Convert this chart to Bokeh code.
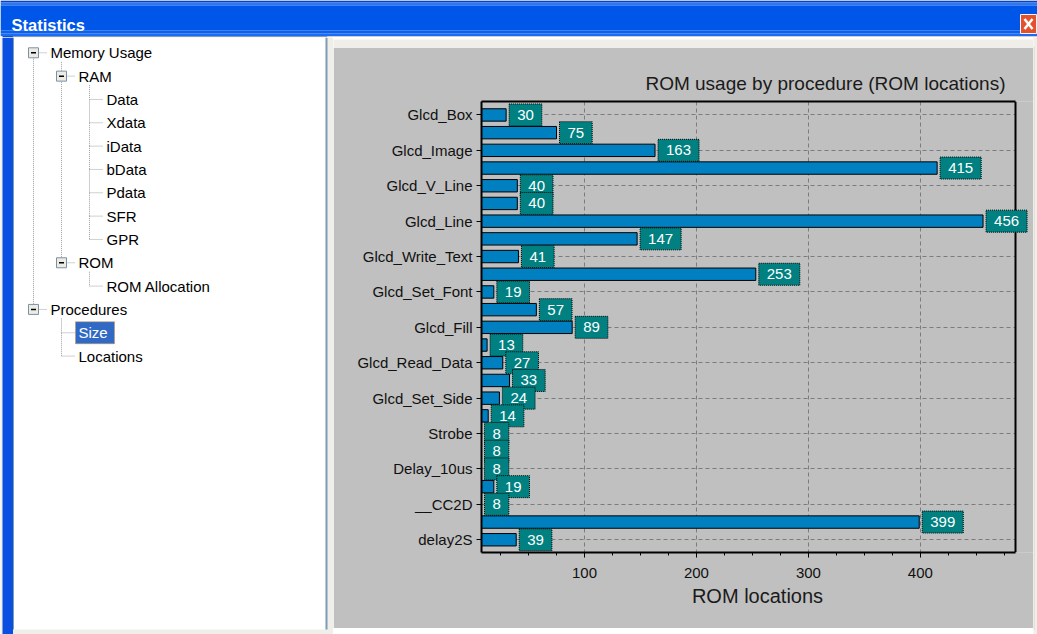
from bokeh.plotting import figure
from bokeh.models import (Range1d, Label, FixedTicker, SingleIntervalTicker, ColumnDataSource,
                          LinearAxis, Span, BoxAnnotation)
from bokeh.layouts import column, row
from bokeh.embed import file_html
from bokeh.resources import INLINE
from bokeh.core.properties import value

# ---------------- data ----------------
row_labels = ["Glcd_Box", "", "Glcd_Image", "", "Glcd_V_Line", "", "Glcd_Line", "",
              "Glcd_Write_Text", "", "Glcd_Set_Font", "", "Glcd_Fill", "", "Glcd_Read_Data", "",
              "Glcd_Set_Side", "", "Strobe", "", "Delay_10us", "", "__CC2D", "", "delay2S"]
rom_sizes = [30, 75, 163, 415, 40, 40, 456, 147, 41, 253, 19, 57, 89, 13, 27, 33,
             24, 14, 8, 8, 8, 19, 8, 399, 39]
x_major_interval = 100
x_min, x_max = 8, 485          # visible axis extent (ROM locations)
chart_title = "ROM usage by procedure (ROM locations)"
x_label = "ROM locations"

window_title = "Statistics"
tree_labels = ["Memory Usage", "RAM", "Data", "Xdata", "iData", "bData", "Pdata", "SFR", "GPR",
               "ROM", "ROM Allocation", "Procedures", "Size", "Locations"]
tree_levels = [0, 1, 2, 2, 2, 2, 2, 2, 2, 1, 2, 0, 1, 1]
tree_expandable = [True, True, False, False, False, False, False, False, False,
                   True, False, True, False, False]
tree_selected = "Size"

FONT = "Liberation Sans"
LIGHT = "#efeee8"
EDGE = "#d8d4c4"

# ---------------- helpers ----------------
def deco_fig(w, h, xr, yr, bg):
    f = figure(width=w, height=h, x_range=Range1d(*xr), y_range=Range1d(*yr),
               x_axis_type=None, y_axis_type=None, toolbar_location=None,
               output_backend="svg", min_border=0, title=None,
               background_fill_color=bg, border_fill_color=bg, outline_line_color=None)
    f.frame_align = False
    f.grid.visible = False
    return f

# ---------------- title bar (window chrome) ----------------
top = deco_fig(1037, 37, (0, 1037), (37, 0), LIGHT)
bands = [(0, 2, "#0840c8"), (2, 5, "#2a78f6"), (5, 30, "#0056e8"), (30, 33, "#0a60f0"), (33, 35.5, "#1a6cf6")]
for y0, y1, c in bands:
    top.quad(left=0, right=1037, top=y0, bottom=y1, fill_color=c, line_color=None)
top.quad(left=2, right=12.5, top=35.5, bottom=37, fill_color="#0a4fe0", line_color=None)
top.quad(left=12.5, right=327, top=35.5, bottom=37, fill_color="#7f9db9", line_color=None)
top.quad(left=327, right=1037, top=35.5, bottom=37, fill_color="#d4d0c8", line_color=None)
top.quad(left=1020, right=1036, top=14, bottom=33, fill_color="#e2522c", line_color="#f4f4f4", line_width=1)
top.segment(x0=[1024, 1024], y0=[18.5, 28.5], x1=[1032, 1032], y1=[28.5, 18.5], line_color="white", line_width=2.5)
top.text(x=[11], y=[24.5], text=[window_title], text_font=value(FONT), text_font_size="16.5px",
         text_font_style="bold", text_color="white", text_baseline="middle")

# ---------------- tree panel ----------------
tree = deco_fig(333, 597, (0, 333), (634, 37), LIGHT)
tree.quad(left=2, right=12.5, top=37, bottom=634, fill_color="#0a4fe0", line_color=None)
tree.quad(left=12.5, right=13.5, top=37, bottom=629, fill_color="#7f9db9", line_color=None)
tree.quad(left=13.5, right=325, top=37, bottom=629, fill_color="white", line_color=None)
tree.quad(left=325, right=327, top=37, bottom=629, fill_color="#7f9db9", line_color=None)

TREE_TOP, TREE_STEP, INDENT, BOX_X0, TEXT_X0 = 52.3, 23.33, 28, 33, 50
n = len(tree_labels)
ys = [TREE_TOP + TREE_STEP * i for i in range(n)]
lx = [BOX_X0 + INDENT * l for l in tree_levels]
tx = [TEXT_X0 + INDENT * l for l in tree_levels]

vx, vy0, vy1 = [], [], []
for i, l in enumerate(tree_levels):
    j = i - 1
    while j >= 0 and tree_levels[j] > l:
        j -= 1
    if j >= 0:
        vx.append(lx[i]); vy0.append(ys[j] + (9 if tree_levels[j] < l else 0)); vy1.append(ys[i])
tree.segment(x0=vx, y0=vy0, x1=vx, y1=vy1, line_color="#a0a0a0", line_width=1, line_dash="1 1")
tree.segment(x0=lx, y0=ys, x1=[t - 3 for t in tx], y1=ys, line_color="#a0a0a0", line_width=1, line_dash="1 1")

bx = [lx[i] for i in range(n) if tree_expandable[i]]
by = [ys[i] for i in range(n) if tree_expandable[i]]
tree.rect(x=bx, y=by, width=10, height=10, fill_color="#ecebe4", line_color="#7b90a8", line_width=1)
tree.segment(x0=[x - 2.5 for x in bx], y0=by, x1=[x + 2.5 for x in bx], y1=by, line_color="black", line_width=1.5)

si = tree_labels.index(tree_selected)
tree.quad(left=tx[si] - 3, right=tx[si] + 36, top=ys[si] - 11, bottom=ys[si] + 11,
          fill_color="#316ac5", line_color="#c89050", line_dash="1 1", line_width=1)
tree.text(x=tx, y=ys, text=tree_labels, text_font=value(FONT), text_font_size="15px",
          text_baseline="middle", text_color=["white" if t == tree_selected else "black" for t in tree_labels])

# ---------------- chart ----------------
GRAY = "#c0c0c0"
rows = list(range(len(rom_sizes)))
src = ColumnDataSource(dict(y=rows, right=rom_sizes, left=[0] * len(rows)))
px_per_unit = 534 / (x_max - x_min)
p = figure(width=700, height=581,
           x_range=Range1d(x_min, x_max + 18 / px_per_unit),
           y_range=Range1d(len(rows) - 1 + 0.72, -0.76),
           toolbar_location=None, output_backend="svg", title=chart_title,
           min_border_left=148, min_border_right=0, min_border_top=54, min_border_bottom=76,
           background_fill_color=GRAY, border_fill_color=GRAY, outline_line_color=None)
p.frame_align = False
p.title.align = "right"
p.title.offset = 28
p.title.text_font = FONT
p.title.text_font_size = "19px"
p.title.text_font_style = "normal"
p.title.text_color = "#1a1a1a"
title_has_standoff = "standoff" in p.title.properties()
if title_has_standoff:
    p.title.standoff = 15

# hide grid beyond the right border of the chart area
p.add_layout(BoxAnnotation(left=x_max, fill_color=GRAY, fill_alpha=1, line_color=None, level="underlay"))

p.hbar(y="y", left="left", right="right", height=0.7, source=src,
       fill_color="#0080c0", line_color="black", line_width=1)

labeled = [i for i, s in enumerate(row_labels) if s]
p.yaxis.ticker = FixedTicker(ticks=labeled, minor_ticks=[])
p.yaxis.major_label_overrides = {i: row_labels[i] for i in labeled}
p.xaxis.ticker = SingleIntervalTicker(interval=x_major_interval, num_minor_ticks=4)
p.xaxis.bounds = (x_min, x_max)
p.xgrid.bounds = (x_min, x_max)
p.xaxis.axis_label = x_label

for ax in (p.xaxis[0], p.yaxis[0]):
    ax.axis_line_color = "black"
    ax.axis_line_width = 2
    ax.major_tick_line_color = "black"
    ax.minor_tick_line_color = "black"
    ax.major_tick_in = 0
    ax.major_tick_out = 5
    ax.minor_tick_in = 0
    ax.minor_tick_out = 3
    ax.major_label_text_font = FONT
    ax.major_label_text_font_size = "15px"
    ax.major_label_text_color = "#111111"
p.yaxis.major_label_standoff = 4
p.xaxis.major_label_standoff = 10
p.xaxis.axis_label_text_font = FONT
p.xaxis.axis_label_text_font_size = "20px"
p.xaxis.axis_label_text_font_style = "normal"
p.xaxis.axis_label_text_color = "#1a1a1a"
p.xaxis.axis_label_standoff = 4

# top and right borders of the chart area
top_axis = LinearAxis(ticker=FixedTicker(ticks=[]), bounds=(x_min, x_max), axis_line_color="black",
                      axis_line_width=2, major_tick_out=0, major_tick_in=0, minor_tick_out=0,
                      minor_tick_in=0, major_label_text_font_size="0px",
                      major_label_standoff=0 if title_has_standoff else 5)
p.add_layout(top_axis, "above")
p.add_layout(Span(location=x_max, dimension="height", line_color="black", line_width=2))

for g in (p.xgrid[0], p.ygrid[0]):
    g.grid_line_color = "#7c7c7c"
    g.grid_line_dash = "4 3"
    g.grid_line_width = 1

for i, v in enumerate(rom_sizes):
    p.add_layout(Label(x=v, y=i, text=str(v), x_offset=3, text_align="left", text_baseline="middle",
                       text_color="white", text_font=FONT, text_font_size="15px",
                       background_fill_color="#008080", border_line_color="black",
                       border_line_dash="1 1", border_line_width=1, padding=(8, 6)))

top_strip = deco_fig(700, 10, (333, 1033), (47, 37), LIGHT)
top_strip.quad(left=333, right=1033, top=46, bottom=47, fill_color=EDGE, line_color=None)
right_strip = deco_fig(4, 597, (0, 4), (634, 37), LIGHT)
right_strip.quad(left=0, right=1, top=46, bottom=629, fill_color=EDGE, line_color=None)
bottom_strip = deco_fig(700, 6, (333, 1033), (634, 628), LIGHT)
bottom_strip.quad(left=333, right=1033, top=628, bottom=629.5, fill_color=EDGE, line_color=None)

layout = column(top, row(tree, column(top_strip, p, bottom_strip, spacing=0), right_strip, spacing=0), spacing=0)
open("out.html", "w").write(file_html(layout, INLINE))
